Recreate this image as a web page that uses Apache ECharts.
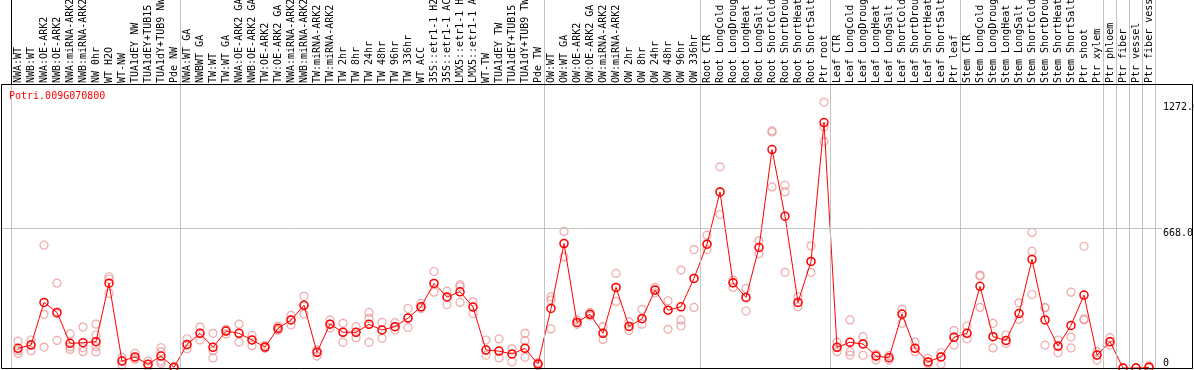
<!DOCTYPE html>
<html>
<head>
<meta charset="utf-8">
<script src="https://cdn.jsdelivr.net/npm/echarts@6/dist/echarts.min.js"></script>
<style>
html, body { margin: 0; padding: 0; background: #fff; }
#chart { width: 1194px; height: 370px; }
</style>
</head>
<body>
<div id="chart"></div>
<script>
const geneName = 'Potri.009G070800';

const categories = [
  'NWA:WT', 'NWB:WT', 'NWA:OE-ARK2', 'NWB:OE-ARK2', 'NWA:miRNA-ARK2', 'NWB:miRNA-ARK2', 'NW 0hr', 'WT H2O', 'WT-NW', 'TUA1dEY NW', 'TUA1dEY+TUB15 NW', 'TUA1dY+TUB9 NW', 'Pde NW',
  'NWA:WT GA', 'NWBWT GA', 'TW:WT', 'TW:WT GA', 'NWA:OE-ARK2 GA', 'NWB:OE-ARK2 GA', 'TW:OE-ARK2', 'TW:OE-ARK2 GA', 'NWA:miRNA-ARK2 GA', 'NWB:miRNA-ARK2 GA', 'TW:miRNA-ARK2', 'TW:miRNA-ARK2 GA', 'TW 2hr', 'TW 8hr', 'TW 24hr', 'TW 48hr', 'TW 96hr', 'TW 336hr', 'WT ACC', '35S::etr1-1 H2O', '35S::etr1-1 ACC', 'LMX5::etr1-1 H2O', 'LMX5::etr1-1 ACC', 'WT-TW', 'TUA1dEY TW', 'TUA1dEY+TUB15 TW', 'TUA1dY+TUB9 TW', 'Pde TW',
  'OW:WT', 'OW:WT GA', 'OW:OE-ARK2', 'OW:OE-ARK2 GA', 'OW:miRNA-ARK2', 'OW:miRNA-ARK2 GA', 'OW 2hr', 'OW 8hr', 'OW 24hr', 'OW 48hr', 'OW 96hr', 'OW 336hr',
  'Root CTR', 'Root LongCold', 'Root LongDrought', 'Root LongHeat', 'Root LongSalt', 'Root ShortCold', 'Root ShortDrought', 'Root ShortHeat', 'Root ShortSalt', 'Ptr root',
  'Leaf CTR', 'Leaf LongCold', 'Leaf LongDrought', 'Leaf LongHeat', 'Leaf LongSalt', 'Leaf ShortCold', 'Leaf ShortDrought', 'Leaf ShortHeat', 'Leaf ShortSalt', 'Ptr leaf',
  'Stem CTR', 'Stem LongCold', 'Stem LongDrought', 'Stem LongHeat', 'Stem LongSalt', 'Stem ShortCold', 'Stem ShortDrought', 'Stem ShortHeat', 'Stem ShortSalt', 'Ptr shoot', 'Ptr xylem',
  'Ptr phloem', 'Ptr fiber', 'Ptr vessel', 'Ptr fiber vessel'
];

// number of categories in each separated block
const groupSizes = [13, 28, 12, 10, 10, 11, 1, 1, 1, 1];

const meanValues = [
  94, 110, 314, 266, 118, 121, 126, 406, 33, 53, 18, 57, 3,
  113, 166, 99, 177, 166, 134, 100, 190, 230, 300, 75, 210, 171, 171, 209, 182, 198, 239, 293, 405, 340, 365, 292, 86, 81, 67, 94, 19,
  285, 596, 218, 257, 166, 386, 199, 236, 373, 277, 293, 429,
  593, 843, 408, 338, 577, 1046, 727, 314, 510, 1175,
  99, 123, 115, 57, 49, 258, 94, 29, 53, 147,
  166, 391, 150, 132, 261, 520, 230, 105, 204, 349, 62,
  126, 0, 0, 3
];

const replicateValues = [
  [129, 83, 70], [134, 113, 83], [588, 257, 100], [406, 260, 132], [163, 102, 89], [196, 97, 78], [210, 158, 126, 102, 77], [437, 425, 357], [51, 35, 14], [70, 50, 41], [33, 18, 8], [97, 78, 33, 22], [5, 2, 1],
  [140, 110, 92], [196, 166, 134], [166, 83, 48], [185, 177, 163], [210, 166, 124], [156, 134, 107], [108, 100, 94], [201, 185, 180], [252, 230, 206], [343, 300, 258], [86, 75, 57], [230, 210, 191], [214, 171, 123], [198, 171, 145], [266, 238, 123], [218, 182, 142], [217, 198, 182], [285, 239, 194], [309, 293, 285], [462, 405, 363], [368, 340, 304], [398, 389, 314], [317, 292, 261], [134, 86, 61], [139, 81, 48], [92, 67, 30], [166, 131, 94, 51], [26, 19, 12],
  [341, 325, 187], [654, 596, 532], [230, 218, 209], [266, 257, 250], [198, 166, 137], [453, 386, 319], [222, 199, 179], [281, 236, 210], [386, 373, 360], [322, 277, 185], [469, 230, 201], [567, 429, 290],
  [636, 593, 567], [963, 843, 735], [421, 408, 386], [381, 338, 273], [609, 577, 548], [1135, 1130, 867], [875, 843, 458], [341, 314, 293], [585, 510, 458], [1272, 1154, 1084],
  [124, 99, 78], [230, 78, 62], [150, 115, 61], [67, 57, 38], [59, 49, 38], [282, 258, 214], [124, 94, 78], [46, 29, 19], [73, 53, 18], [179, 147, 110],
  [201, 166, 140], [445, 440, 290], [214, 150, 96], [158, 132, 118], [312, 261, 233], [649, 558, 352], [289, 289, 110], [134, 105, 73], [363, 148, 96], [583, 235, 230], [78, 62, 38],
  [145, 126, 110], [0, 0, 0], [0, 0, 0], [10, 3, 0]
];

const yTickValues = [0, 668, 1272];
const yTickLabels = ['0', '668.0', '1272.0'];
const yGridValues = [668];
const yAxisMax = 1355;

// ---------------------------------------------------------------
const MONO = 'DejaVu Sans Mono';
const RED = '#ff0000';
const PINK = '#eb9494';
const GRAY = '#c3c3c3';

const n = categories.length;
const bounds = [-0.5];
let cum = 0;
groupSizes.forEach(s => { cum += s; bounds.push(cum - 0.5); });

const repData = [];
replicateValues.forEach((arr, i) => arr.forEach(v => repData.push([i, v])));

const chart = echarts.init(document.getElementById('chart'), null, { renderer: 'canvas' });

const gridBase = { containLabel: false, outerBoundsMode: 'none' };

chart.setOption({
  animation: false,
  backgroundColor: '#fff',
  title: {
    text: geneName, left: 9, top: 91, padding: 0,
    textStyle: { fontFamily: MONO, fontSize: 10, fontWeight: 'normal', color: RED }
  },
  graphic: [{
    type: 'rect', silent: true, z: 100,
    shape: { x: 1.5, y: 84.5, width: 1191, height: 284 },
    style: { fill: null, stroke: '#000', lineWidth: 1 }
  }],
  grid: [
    Object.assign({ left: 11.5, right: 38.5, top: 85, bottom: 2 }, gridBase),
    Object.assign({ left: 11.5, right: 38.5, top: 0, height: 85 }, gridBase),
    Object.assign({ left: 1, right: 32, top: 85, bottom: 2 }, gridBase)
  ],
  xAxis: [
    {
      type: 'category', gridIndex: 0, position: 'top', data: categories, boundaryGap: true,
      axisLine: { show: false }, axisTick: { show: false }, splitLine: { show: false },
      axisLabel: {
        rotate: 90, interval: 0, margin: 2, align: 'left', verticalAlign: 'middle',
        fontFamily: MONO, fontSize: 10, color: '#000', hideOverlap: false
      }
    },
    { type: 'value', gridIndex: 0, show: false, min: -0.5, max: n - 0.5 },
    { type: 'value', gridIndex: 1, show: false, min: -0.5, max: n - 0.5 },
    { type: 'value', gridIndex: 2, show: false, min: 0, max: 1 }
  ],
  yAxis: [
    { type: 'value', gridIndex: 0, show: false, min: 0, max: yAxisMax },
    { type: 'value', gridIndex: 1, show: false, min: 0, max: 1 },
    {
      type: 'value', gridIndex: 2, position: 'right', min: 0, max: yAxisMax,
      axisLine: { show: false }, axisTick: { show: false }, splitLine: { show: false },
      axisLabel: {
        customValues: yTickValues, margin: 1, color: '#000', fontFamily: MONO, fontSize: 10,
        formatter: v => {
          const lbl = yTickLabels[yTickValues.indexOf(v)];
          return v === 0 ? '{lo|' + lbl + '}' : '{hi|' + lbl + '}';
        },
        rich: {
          hi: { padding: [10, 0, 0, 0], fontFamily: MONO, fontSize: 10, color: '#000' },
          lo: { padding: [0, 0, 10, 0], fontFamily: MONO, fontSize: 10, color: '#000' }
        }
      }
    }
  ],
  series: [
    {
      type: 'line', xAxisIndex: 1, yAxisIndex: 0, data: [], silent: true, z: 1,
      markLine: {
        silent: true, symbol: ['none', 'none'], label: { show: false },
        lineStyle: { color: GRAY, width: 1, type: 'solid' },
        data: bounds.map(b => [{ coord: [b, 0] }, { coord: [b, yAxisMax] }])
      }
    },
    {
      type: 'line', xAxisIndex: 2, yAxisIndex: 1, data: [], silent: true, z: 1,
      markLine: {
        silent: true, symbol: ['none', 'none'], label: { show: false },
        lineStyle: { color: GRAY, width: 1, type: 'solid' },
        data: bounds.map((b, k) => [
          { coord: [b, 0], lineStyle: { color: k === 0 ? '#000' : GRAY } },
          { coord: [b, 1] }
        ])
      }
    },
    {
      type: 'line', xAxisIndex: 3, yAxisIndex: 2, data: [], silent: true, z: 1,
      markLine: {
        silent: true, symbol: ['none', 'none'], label: { show: false },
        lineStyle: { color: GRAY, width: 1, type: 'solid' },
        data: yGridValues.map(v => ({ yAxis: v }))
      }
    },
    {
      type: 'scatter', xAxisIndex: 0, yAxisIndex: 0, data: repData, z: 3,
      symbol: 'circle', symbolSize: 8,
      itemStyle: { color: 'rgba(0,0,0,0)', borderColor: PINK, borderWidth: 1.2 },
      emphasis: { disabled: true }
    },
    {
      type: 'line', xAxisIndex: 0, yAxisIndex: 0, data: meanValues, z: 4,
      symbol: 'circle', symbolSize: 8, showAllSymbol: true,
      lineStyle: { color: RED, width: 1 },
      itemStyle: { color: 'rgba(0,0,0,0)', borderColor: RED, borderWidth: 1.5 },
      emphasis: { disabled: true }
    }
  ]
});
</script>
</body>
</html>
